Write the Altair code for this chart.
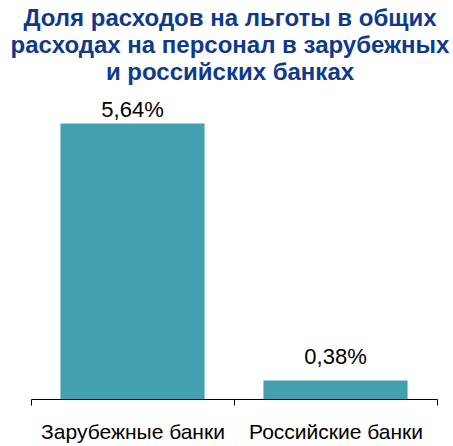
import altair as alt
import pandas as pd

categories = ["Зарубежные банки", "Российские банки"]
values = [5.64, 0.38]
labels = ["5,64%", "0,38%"]

df = pd.DataFrame({"cat": categories, "val": values, "lab": labels})

x = alt.X("cat:N", sort=categories, title=None,
          scale=alt.Scale(paddingInner=0, paddingOuter=0),
          axis=alt.Axis(labelAngle=0, labelFontSize=21, labelColor="black",
                        labelFont="Liberation Sans", domainColor="black",
                        tickColor="black", tickSize=6, tickBand="extent",
                        labelPadding=16, labelLimit=0, grid=False))
y = alt.Y("val:Q", title=None, scale=alt.Scale(domain=[0, 6], nice=False), axis=None)

base = alt.Chart(df)
bars = base.mark_bar(color="#43a0b0", width=alt.RelativeBandSize(0.71)).encode(x=x, y=y)

t1 = base.transform_filter(alt.datum.cat == categories[0]).mark_text(
    fontSize=22, font="Liberation Sans", color="black", baseline="alphabetic", dy=-7
).encode(x=x, y=y, text="lab:N")
t2 = base.transform_filter(alt.datum.cat == categories[1]).mark_text(
    fontSize=22, font="Liberation Sans", color="black", baseline="alphabetic", dy=-16
).encode(x=x, y=y, text="lab:N")

chart = alt.layer(bars, t1, t2).properties(
    width=406, height=293,
    autosize=alt.AutoSizeParams(type="none"),
    padding={"left": 31, "top": 106, "right": 16, "bottom": 47},
    title=alt.TitleParams(
        ["Доля расходов на льготы в общих", "расходах на персонал в зарубежных", "и российских банках"],
        font="Liberation Sans", fontSize=24, fontWeight="bold", color="#0f3a8c",
        anchor="middle", lineHeight=27, offset=14, dx=-4),
).configure_view(stroke=None)

chart.save("out.html", embed_options={"renderer": "svg", "actions": False})
